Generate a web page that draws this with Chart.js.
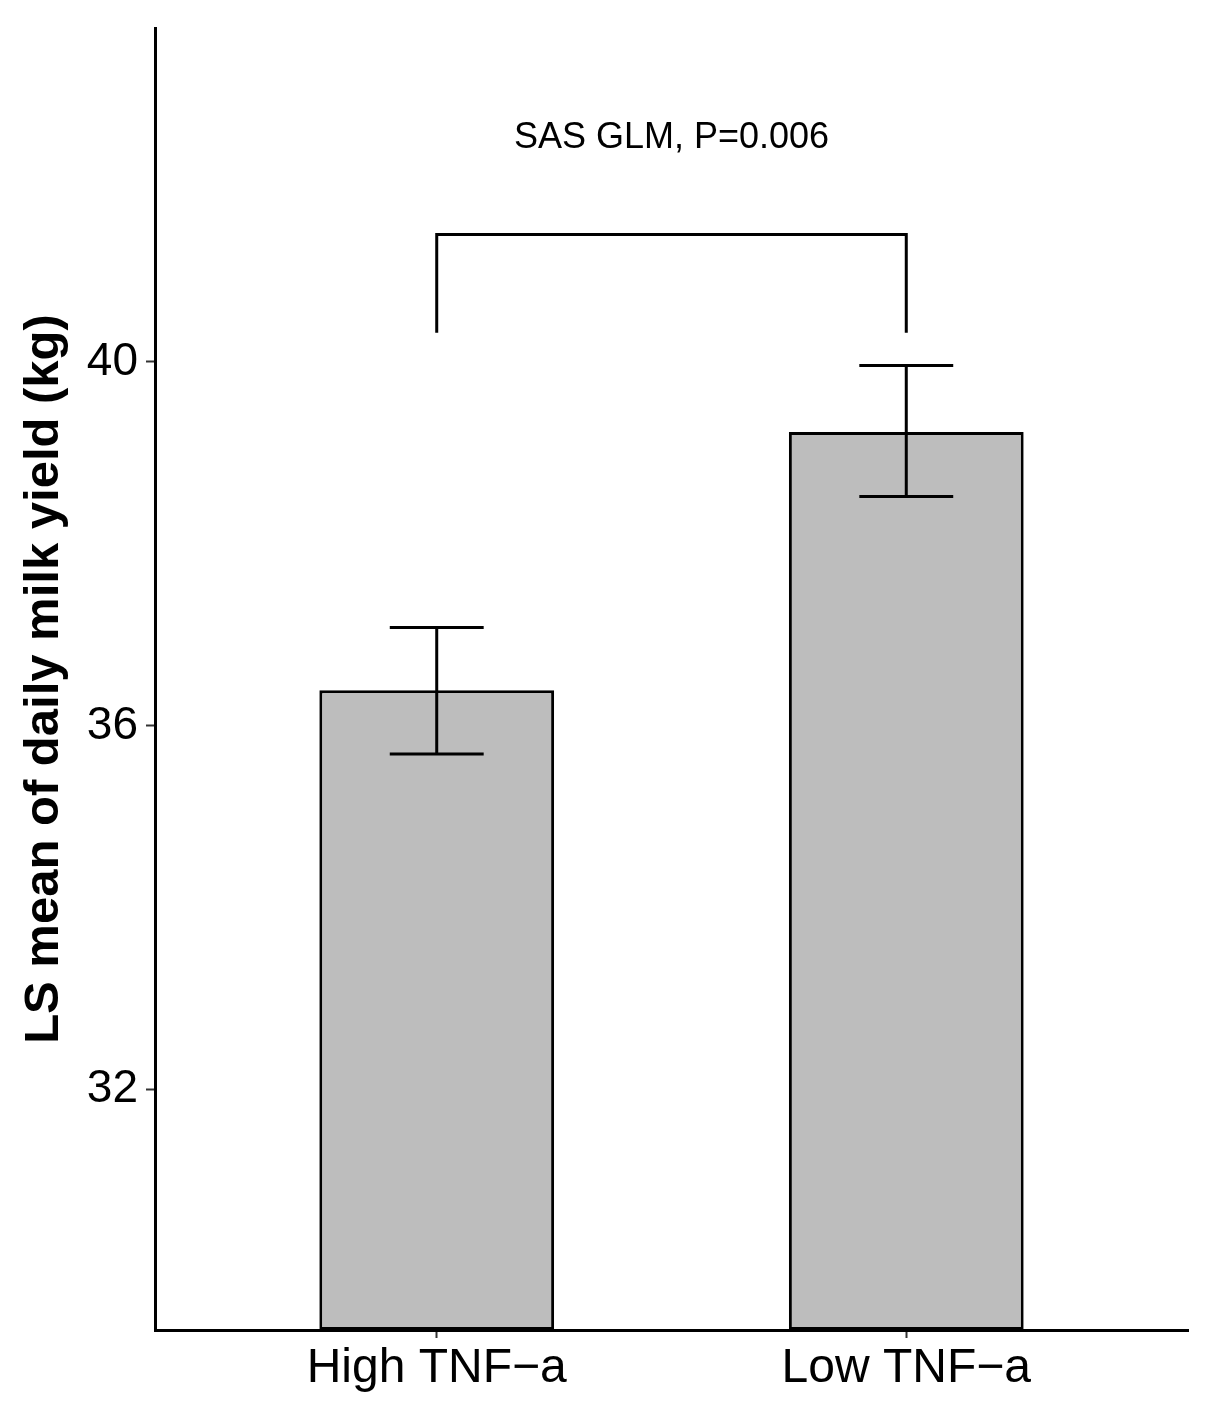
<!DOCTYPE html>
<html>
<head>
<meta charset="utf-8">
<script src="https://cdn.jsdelivr.net/npm/chart.js@4"></script>
<style>
    body { margin: 0; background: #fff; }
    #wrap { width: 1207px; height: 1419px; }
</style>
</head>
<body>
<div id="wrap"><canvas id="milkChart"></canvas></div>
<script>

const groups = ["High TNF\u2212a", "Low TNF\u2212a"];

const groupPos = [1, 2];

const means = [36.39, 39.23];

const errLow = [35.69, 38.52];

const errHigh = [37.08, 39.96];

const yTicks = [32, 36, 40];

const bracketTop = 41.40;

const bracketFoot = 40.32;

const testLabel = "SAS GLM, P=0.006";

const testLabelY = 42.46;

const yMin = 29.36;
const yMax = 43.67;

const FONT = "'Liberation Sans', Arial, sans-serif";

const extrasPlugin = {

    id: "extras",

    afterDatasetsDraw(chart) {

        const ctx = chart.ctx;
        const x = chart.scales.x;
        const y = chart.scales.y;

        ctx.save();
        ctx.strokeStyle = "#000";
        ctx.lineWidth = 3;
        ctx.lineCap = "butt";

        // error bars
        groupPos.forEach((g, i) => {

            const cx = x.getPixelForValue(g);
            const capL = x.getPixelForValue(g - 0.1);
            const capR = x.getPixelForValue(g + 0.1);
            const top = y.getPixelForValue(errHigh[i]);
            const bot = y.getPixelForValue(errLow[i]);

            ctx.beginPath();
            ctx.moveTo(cx, top);
            ctx.lineTo(cx, bot);
            ctx.moveTo(capL, top);
            ctx.lineTo(capR, top);
            ctx.moveTo(capL, bot);
            ctx.lineTo(capR, bot);
            ctx.stroke();

        });

        // significance bracket
        const bx1 = x.getPixelForValue(groupPos[0]);
        const bx2 = x.getPixelForValue(groupPos[1]);
        const by = y.getPixelForValue(bracketTop);
        const bf = y.getPixelForValue(bracketFoot);

        ctx.beginPath();
        ctx.moveTo(bx1, bf);
        ctx.lineTo(bx1, by);
        ctx.lineTo(bx2, by);
        ctx.lineTo(bx2, bf);
        ctx.stroke();

        ctx.fillStyle = "#000";
        ctx.font = "36px " + FONT;
        ctx.textAlign = "center";
        ctx.textBaseline = "middle";
        ctx.fillText(
            testLabel,
            x.getPixelForValue((groupPos[0] + groupPos[1]) / 2),
            y.getPixelForValue(testLabelY)
        );

        ctx.restore();

    }

};

new Chart(document.getElementById("milkChart"), {

    type: "bar",

    data: {

        datasets: [{

            data: groupPos.map((g, i) => ({ x: g, y: means[i] })),

            base: yMin,

            backgroundColor: "#bdbdbd",

            borderColor: "#000",

            borderWidth: 3,

            borderSkipped: false,

            barPercentage: 0.5,

            categoryPercentage: 1.0

        }]

    },

    options: {

        responsive: true,

        maintainAspectRatio: false,

        animation: false,

        layout: {
            padding: { top: 28, right: 19, left: 0, bottom: 0 }
        },

        plugins: {
            legend: { display: false },
            tooltip: { enabled: false }
        },

        scales: {

            x: {

                type: "linear",

                offset: false,

                min: 0.4,

                max: 2.6,

                afterBuildTicks: scale => {
                    scale.ticks = groupPos.map(v => ({ value: v }));
                },

                afterFit: scale => {
                    scale.height = 89;
                    scale.paddingLeft = 0;
                    scale.paddingRight = 0;
                },

                ticks: {
                    color: "#000",
                    font: { family: FONT, size: 48 },
                    padding: 2,
                    maxRotation: 0,
                    callback: value => groups[groupPos.indexOf(value)] || ""
                },

                grid: {
                    offset: false,
                    drawOnChartArea: false,
                    color: "#333",
                    tickLength: 8,
                    tickWidth: 2
                },

                border: {
                    color: "#000",
                    width: 3
                }

            },

            y: {

                min: yMin,

                max: yMax,

                afterBuildTicks: scale => {
                    scale.ticks = yTicks.map(v => ({ value: v }));
                },

                afterFit: scale => {
                    scale.width = 155;
                    scale.paddingTop = 0;
                    scale.paddingBottom = 0;
                },

                ticks: {
                    color: "#000",
                    font: { family: FONT, size: 46 },
                    padding: 8
                },

                grid: {
                    drawOnChartArea: false,
                    color: "#333",
                    tickLength: 9,
                    tickWidth: 2
                },

                border: {
                    color: "#000",
                    width: 3
                },

                title: {
                    display: true,
                    text: "LS mean of daily milk yield (kg)",
                    color: "#000",
                    font: { family: FONT, size: 49, weight: "bold" },
                    padding: { top: 15, bottom: 0 }
                }

            }

        }

    },

    plugins: [extrasPlugin]

});

</script>
</body>
</html>
